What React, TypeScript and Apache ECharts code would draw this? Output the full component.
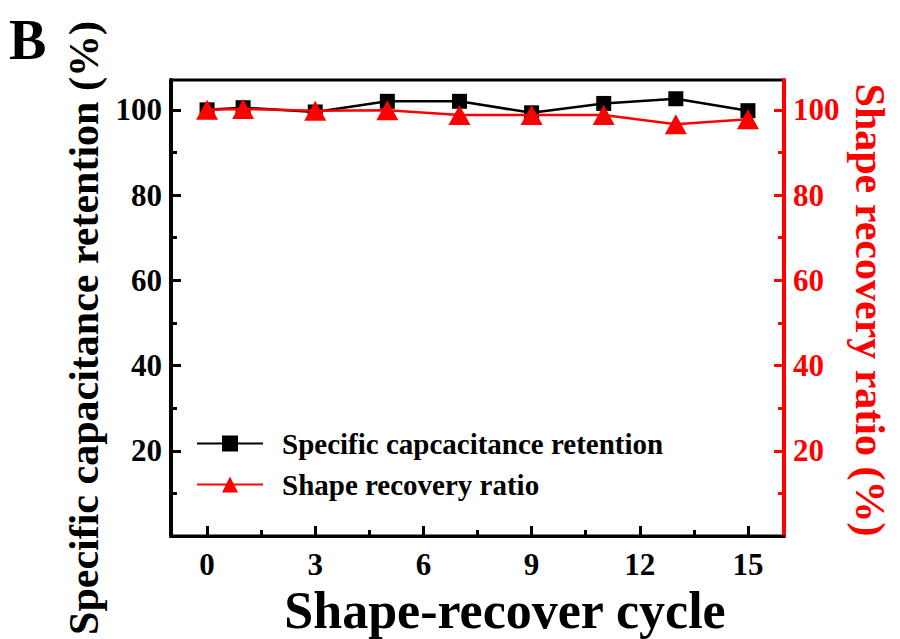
import React, { useEffect, useRef } from "react";
import * as echarts from "echarts";

const cycles = [0, 1, 3, 5, 7, 9, 11, 13, 15];
const capRetention = [100, 100.5, 99.5, 102, 102, 99.3, 101.5, 102.6, 99.8];
const shapeRecovery = [100, 100.2, 99.8, 99.9, 98.8, 98.8, 98.8, 96.6, 97.8];
const xMajor = [0, 3, 6, 9, 12, 15];
const xMinor = [1.5, 4.5, 7.5, 10.5, 13.5];
const yMajor = [20, 40, 60, 80, 100];
const yMinor = [10, 30, 50, 70, 90];

const FONT = "'Liberation Serif', 'Times New Roman', serif";
const RED = "#ff0000";

export default function App() {
  const ref = useRef<HTMLDivElement>(null);
  useEffect(() => {
    if (!ref.current) return;
    const chart = echarts.init(ref.current, undefined, { renderer: "svg" });
    const labelStyle = (color: string) => ({
      color,
      fontSize: 31,
      fontWeight: "bold" as const,
      fontFamily: FONT,
    });
    const yAxisBase = (pos: "left" | "right", color: string, ticks: number[], len: number, labels: boolean, lineW: number) => ({
      type: "value" as const,
      position: pos,
      min: 0,
      max: 107,
      axisLine: { show: lineW > 0, onZero: false, lineStyle: { color, width: lineW } },
      axisTick: { show: true, inside: true, length: len, customValues: ticks, lineStyle: { color, width: 3 } },
      axisLabel: labels
        ? { show: true, customValues: yMajor, margin: 9, ...labelStyle(color) }
        : { show: false },
      splitLine: { show: false },
    });
    chart.setOption({
      animation: false,
      grid: {
        left: 171,
        right: 116,
        top: 80,
        bottom: 103,
        show: true,
        borderColor: "#000",
        borderWidth: 3,
        backgroundColor: "transparent",
      },
      xAxis: [
        {
          type: "value",
          min: -1,
          max: 16,
          axisLine: { show: true, onZero: false, lineStyle: { color: "#000", width: 3 } },
          axisTick: { show: true, inside: true, length: 10, customValues: xMajor, lineStyle: { color: "#000", width: 3 } },
          axisLabel: { show: true, customValues: xMajor, margin: 13, ...labelStyle("#000") },
          splitLine: { show: false },
        },
        {
          type: "value",
          position: "bottom",
          min: -1,
          max: 16,
          axisLine: { show: false, onZero: false },
          axisTick: { show: true, inside: true, length: 6, customValues: xMinor, lineStyle: { color: "#000", width: 3 } },
          axisLabel: { show: false },
          splitLine: { show: false },
        },
      ],
      yAxis: [
        yAxisBase("left", "#000", yMajor, 10, true, 4),
        yAxisBase("left", "#000", yMinor, 6, false, 0),
        yAxisBase("right", RED, yMajor, 10, true, 4),
        yAxisBase("right", RED, yMinor, 6, false, 0),
      ],
      legend: {
        orient: "vertical",
        left: 191,
        top: 424,
        itemWidth: 66,
        itemHeight: 20,
        itemGap: 12,
        textStyle: { color: "#000", fontSize: 29, fontWeight: "bold", fontFamily: FONT, padding: [0, 0, 0, 14] },
        data: ["Specific capcacitance retention", "Shape recovery ratio"],
      },
      series: [
        {
          name: "Specific capcacitance retention",
          type: "line",
          xAxisIndex: 0,
          yAxisIndex: 0,
          data: cycles.map((c, i) => [c, capRetention[i]]),
          symbol: "rect",
          symbolSize: 15,
          itemStyle: { color: "#000" },
          lineStyle: { color: "#000", width: 2.5 },
          z: 2,
        },
        {
          name: "Shape recovery ratio",
          type: "line",
          xAxisIndex: 0,
          yAxisIndex: 2,
          data: cycles.map((c, i) => [c, shapeRecovery[i]]),
          symbol: "triangle",
          symbolSize: [22, 20],
          itemStyle: { color: RED },
          lineStyle: { color: RED, width: 2.5 },
          z: 3,
        },
      ],
      graphic: [
        {
          type: "text",
          left: 9,
          top: 12,
          style: { text: "B", fontSize: 56, fontWeight: "bold", fontFamily: FONT, fill: "#000" },
        },
        {
          type: "text",
          x: 84,
          y: 328,
          rotation: Math.PI / 2,
          style: {
            text: "Specific capacitance retention (%)",
            fontSize: 42,
            fontWeight: "bold",
            fontFamily: FONT,
            fill: "#000",
            align: "center",
            verticalAlign: "middle",
          },
        },
        {
          type: "text",
          x: 870,
          y: 310,
          rotation: -Math.PI / 2,
          style: {
            text: "Shape recovery ratio (%)",
            fontSize: 42,
            fontWeight: "bold",
            fontFamily: FONT,
            fill: RED,
            align: "center",
            verticalAlign: "middle",
          },
        },
        {
          type: "text",
          x: 505,
          y: 610,
          style: {
            text: "Shape-recover cycle",
            fontSize: 52,
            fontWeight: "bold",
            fontFamily: FONT,
            fill: "#000",
            align: "center",
            verticalAlign: "middle",
          },
        },
      ],
    });
    return () => chart.dispose();
  }, []);
  return (
    <div
      ref={ref}
      style={{ position: "fixed", left: 0, top: 0, width: 900, height: 639, background: "#fff" }}
    />
  );
}
